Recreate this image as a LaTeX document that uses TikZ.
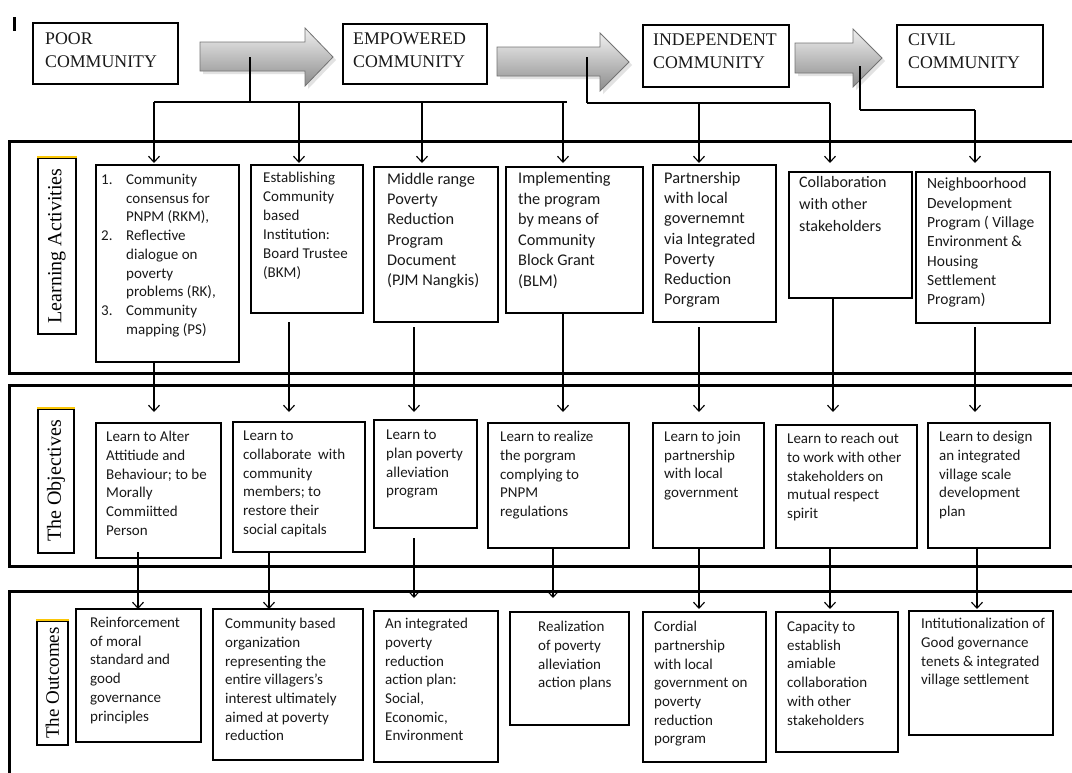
\documentclass[tikz,border=0pt]{standalone}
\usepackage{fontspec}
\setmainfont{Carlito}
\newfontfamily\headfont{Liberation Serif}
\usetikzlibrary{arrows.meta,fit}

\begin{document}
\begin{tikzpicture}[x=1pt,y=-1pt,
  panel/.style={line width=3pt},
  cbox/.style={draw, line width=1.3pt, inner sep=0pt},
  hbox/.style={draw, line width=1.3pt, inner sep=0pt},
  txt/.style={anchor=north west, inner sep=0pt, align=left, text=black!90,
              execute at begin node=\strut},
  t15/.style={txt, font=\fontsize{15}{18.7}\selectfont},
  t16/.style={txt, font=\fontsize{16.3}{20.2}\selectfont},
  head/.style={txt, font=\headfont\fontsize{17.8}{23}\selectfont},
  side/.style={inner sep=0pt, rotate=90, font=\headfont\fontsize{20}{22}\selectfont},
  blockarrow/.style={draw=black!55, line width=0.8pt, top color=black!6, bottom color=black!45},
  shadowarrow/.style={fill=black!25, draw=none, opacity=0.45},
  stub/.style={line width=2.2pt},
  bus/.style={line width=1.1pt},
  arr/.style={line width=1.1pt, -{Straight Barb[length=6pt,width=11pt]}},
  plain/.style={line width=1.1pt}
]
\useasboundingbox (0,0) rectangle (1072,772);

% stray mark in the corner
\draw[line width=3pt] (14.5,17) -- (14.5,31);

% ---------- stage boxes ----------
\node[hbox, fit={(33,23) (178,84)}] (poor) {};
\node[head] (poort) at (45,33) {POOR\\COMMUNITY};
\node[hbox, fit={(343,24) (487,84)}] (emp) {};
\node[head] (empt) at (353,33) {EMPOWERED\\COMMUNITY};
\node[hbox, fit={(643,25) (789,87)}] (ind) {};
\node[head] (indt) at (653,34) {INDEPENDENT\\COMMUNITY};
\node[hbox, fit={(897,25) (1043,87)}] (civ) {};
\node[head] (civt) at (908,34) {CIVIL\\COMMUNITY};

% ---------- block arrows between stages ----------
\fill[shadowarrow] (203,45) -- (308,45) -- (308,31) -- (336,60) -- (308,89) -- (308,74) -- (203,74) -- cycle;
\path[blockarrow] (200,42) -- (305,42) -- (305,28) -- (333,57) -- (305,86) -- (305,71) -- (200,71) -- cycle;
\fill[shadowarrow] (500,50) -- (603,50) -- (603,36) -- (632,65) -- (603,94) -- (603,79) -- (500,79) -- cycle;
\path[blockarrow] (497,47) -- (600,47) -- (600,33) -- (629,62) -- (600,91) -- (600,76) -- (497,76) -- cycle;
\fill[shadowarrow] (798,46) -- (856,46) -- (856,32) -- (885,61) -- (856,90) -- (856,76) -- (798,76) -- cycle;
\path[blockarrow] (795,43) -- (853,43) -- (853,29) -- (882,58) -- (853,87) -- (853,73) -- (795,73) -- cycle;

% ---------- panels ----------
\draw[panel] (1075,141) -- (9,141) -- (9,373) -- (1075,373);
\draw[panel] (1075,385) -- (9,385) -- (9,566) -- (1075,566);
\draw[panel] (1075,591) -- (9,591) -- (9,775);

% ---------- side labels ----------
\node[draw, line width=2.5pt, inner sep=0pt, fit={(38,158) (76,334)}] (lab1) {};
\draw[line width=2pt, draw=yellow!60!orange] (lab1.north west) -- (lab1.north east);
\node[side] (lab1t) at (lab1.center) {Learning Activities};
\node[draw, line width=2.5pt, inner sep=0pt, fit={(38,409) (74,553)}] (lab2) {};
\draw[line width=2pt, draw=yellow!60!orange] (lab2.north west) -- (lab2.north east);
\node[side] (lab2t) at (lab2.center) {The Objectives};
\node[draw, line width=2.5pt, inner sep=0pt, fit={(37,621) (68,745)}] (lab3) {};
\draw[line width=2pt, draw=yellow!60!orange] (lab3.north west) -- (lab3.north east);
\node[side, font=\headfont\fontsize{19}{21}\selectfont] (lab3t) at (lab3.center) {The Outcomes};

% ---------- learning activities ----------
\node[cbox, fit={(96,165) (239,362)}] (la1) {};
\node[t15] (la1t) at (101,174) {\makebox[25pt][l]{1.}Community\\\hspace*{25pt}consensus for\\\hspace*{25pt}PNPM (RKM),\\
\makebox[25pt][l]{2.}Reflective\\\hspace*{25pt}dialogue on\\\hspace*{25pt}poverty\\\hspace*{25pt}problems (RK),\\
\makebox[25pt][l]{3.}Community\\\hspace*{25pt}mapping (PS)};
\node[cbox, fit={(251,165) (363,313)}] (la2) {};
\node[t15, font=\fontsize{15}{19}\selectfont] (la2t) at (263,172) {Establishing\\Community\\based\\Institution:\\Board Trustee\\(BKM)};
\node[cbox, fit={(374,167) (498,322)}] (la3) {};
\node[t16] (la3t) at (387,173) {Middle range\\Poverty\\Reduction\\Program\\Document\\(PJM Nangkis)};
\node[cbox, fit={(506,167) (643,313)}] (la4) {};
\node[t16, font=\fontsize{16.3}{20.5}\selectfont] (la4t) at (518,172) {Implementing\\the program\\by means of\\Community\\Block Grant\\(BLM)};
\node[cbox, fit={(653,165) (776,322)}] (la5) {};
\node[t16] (la5t) at (664,172) {Partnership\\with local\\governemnt\\via Integrated\\Poverty\\Reduction\\Porgram};
\node[cbox, fit={(789,172) (912,298)}] (la6) {};
\node[t16, font=\fontsize{16}{22}\selectfont] (la6t) at (799,176) {Collaboration\\with other\\stakeholders};
\node[cbox, fit={(916,172) (1050,323)}] (la7) {};
\node[t15, font=\fontsize{15.5}{19.3}\selectfont] (la7t) at (927,178) {Neighboorhood\\Development\\Program ( Village\\Environment \&\\Housing\\Settlement\\Program)};

% ---------- objectives ----------
\node[cbox, fit={(96,423) (221,558)}] (ob1) {};
\node[t15] (ob1t) at (106,431) {Learn to Alter\\Attitiude and\\Behaviour; to be\\Morally\\Commiitted\\Person};
\node[cbox, fit={(233,422) (365,552)}] (ob2) {};
\node[t15] (ob2t) at (243,431) {Learn to\\collaborate\ \ with\\community\\members; to\\restore their\\social capitals};
\node[cbox, fit={(374,420) (477,528)}] (ob3) {};
\node[t15] (ob3t) at (386,430) {Learn to\\plan poverty\\alleviation\\program};
\node[cbox, fit={(488,423) (629,548)}] (ob4) {};
\node[t15] (ob4t) at (500,431) {Learn to realize\\the porgram\\complying to\\PNPM\\regulations};
\node[cbox, fit={(653,423) (764,548)}] (ob5) {};
\node[t15] (ob5t) at (664,431) {Learn to join\\partnership\\with local\\government};
\node[cbox, fit={(776,425) (917,548)}] (ob6) {};
\node[t15] (ob6t) at (787,433) {Learn to reach out\\to work with other\\stakeholders on\\mutual respect\\spirit};
\node[cbox, fit={(928,423) (1050,548)}] (ob7) {};
\node[t15] (ob7t) at (939,431) {Learn to design\\an integrated\\village scale\\development\\plan};

% ---------- outcomes ----------
\node[cbox, fit={(76,609) (201,742)}] (ou1) {};
\node[t15] (ou1t) at (90,617) {Reinforcement\\of moral\\standard and\\good\\governance\\principles};
\node[cbox, fit={(213,609) (363,760)}] (ou2) {};
\node[t15] (ou2t) at (225,618) {Community based\\organization\\representing the\\entire villagers's\\interest ultimately\\aimed at poverty\\reduction};
\node[cbox, fit={(374,611) (498,762)}] (ou3) {};
\node[t15] (ou3t) at (385,618) {An integrated\\poverty\\reduction\\action plan:\\Social,\\Economic,\\Environment};
\node[cbox, fit={(510,612) (629,725)}] (ou4) {};
\node[t15] (ou4t) at (538,621) {Realization\\of poverty\\alleviation\\action plans};
\node[cbox, fit={(643,612) (766,762)}] (ou5) {};
\node[t15] (ou5t) at (654,621) {Cordial\\partnership\\with local\\government on\\poverty\\reduction\\porgram};
\node[cbox, fit={(776,612) (898,752)}] (ou6) {};
\node[t15] (ou6t) at (787,621) {Capacity to\\establish\\amiable\\collaboration\\with other\\stakeholders};
\node[cbox, fit={(909,611) (1053,735)}] (ou7) {};
\node[t15] (ou7t) at (921,618) {Intitutionalization of\\Good governance\\tenets \& integrated\\village settlement};

% ---------- rows where the arrow tips stop ----------
\coordinate (rowA) at (0,163);
\coordinate (rowB) at (0,412);
\coordinate (rowC) at (0,609);

% ---------- feeders from the stage arrows ----------
\coordinate (s1) at (250,57);   \coordinate (j1) at (250,102);
\coordinate (s2) at (587,57);   \coordinate (j2) at (587,103);
\coordinate (s3) at (860,66);   \coordinate (j3) at (860,110);
\draw[stub] (s1) -- (j1);
\draw[stub] (s2) -- (j2);
\draw[stub] (s3) -- (j3);

\coordinate (d1) at (154,102); \coordinate (d2) at (299,102);
\coordinate (d3) at (422,102); \coordinate (d4) at (563,102);
\coordinate (e4) at (567,102);
\coordinate (d5) at (699,103); \coordinate (d6) at (830,103);
\coordinate (d7) at (975,110);
\draw[bus] (d1) -- (e4);
\draw[bus] (j2) -- (d6);
\draw[bus] (j3) -- (d7);
\foreach \i in {1,...,7}{\draw[arr] (d\i) -- (d\i |- rowA);}

% ---------- learning activities to objectives ----------
\coordinate (u1) at (154,362); \coordinate (u2) at (289,322);
\coordinate (u3) at (414,327); \coordinate (u4) at (563,313);
\coordinate (u5) at (699,327); \coordinate (u6) at (833,298);
\coordinate (u7) at (975,327);
\foreach \i in {1,...,7}{\draw[arr] (u\i) -- (u\i |- rowB);}

% ---------- objectives to outcomes ----------
\coordinate (v1) at (138,552); \coordinate (v2) at (269,552);
\coordinate (v3) at (414,538); \coordinate (v4) at (553,548);
\coordinate (v5) at (699,548); \coordinate (v6) at (830,548);
\coordinate (v7) at (977,548);
\coordinate (w3) at (0,598);
\draw[arr] (v1) -- (v1 |- rowC);
\draw[arr] (v2) -- (v2 |- rowC);
\draw[arr] (v3) -- (v3 |- w3);
\draw[arr] (v4) -- (v4 |- w3);
\draw[arr] (v5) -- (v5 |- rowC);
\draw[arr] (v6) -- (v6 |- rowC);
\draw[arr] (v7) -- (v7 |- rowC);
\end{tikzpicture}
\end{document}
